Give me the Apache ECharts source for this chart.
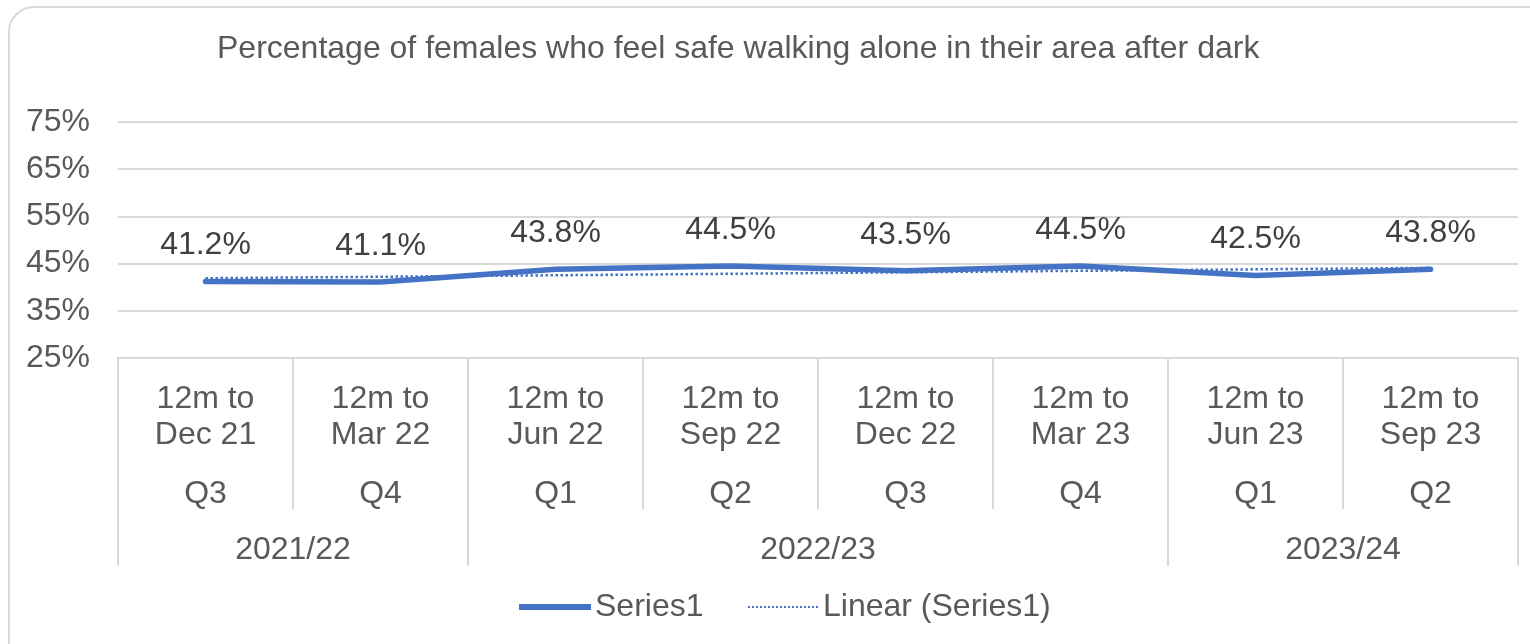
<!DOCTYPE html>
<html>
<head>
<meta charset="utf-8">
<script src="https://cdn.jsdelivr.net/npm/echarts@6/dist/echarts.min.js"></script>
<style>
html,body{margin:0;padding:0;background:#fff;overflow:hidden;}
#frame{position:absolute;left:8px;top:6px;width:1560px;height:680px;border:2px solid #d9d9d9;border-radius:26px;box-sizing:border-box;}
#chart{position:absolute;left:0;top:0;width:1530px;height:644px;}
</style>
</head>
<body>
<div id="frame"></div>
<div id="chart"></div>
<script>
const periods = ['12m to\nDec 21','12m to\nMar 22','12m to\nJun 22','12m to\nSep 22','12m to\nDec 22','12m to\nMar 23','12m to\nJun 23','12m to\nSep 23'];
const quarters = ['Q3','Q4','Q1','Q2','Q3','Q4','Q1','Q2'];
const years = ['2021/22','2022/23','2023/24'];
const yearSpans = [2,4,2]; // number of quarters in each year group
const series1 = [41.2,41.1,43.8,44.5,43.5,44.5,42.5,43.8];
const trendEnds = [41.9,44.1]; // linear trendline read at first and last category
const yTicks = [25,35,45,55,65,75];

const trend = series1.map((v,i)=> i===0 ? trendEnds[0] : (i===series1.length-1 ? trendEnds[1] : null));

const bounds=[0]; yearSpans.forEach(s=>bounds.push(bounds[bounds.length-1]+s));
const centres = yearSpans.map((s,i)=>bounds[i]+s/2);

// legend icons
const solidIcon = 'path://M0,0L72,0L72,6L0,6Z';
let dots=''; for(let x=0;x<=68;x+=4){dots+='M'+x+',0L'+(x+2)+',0L'+(x+2)+',2L'+x+',2Z';}
const dotIcon = 'path://'+dots;

const grey='#d9d9d9', txt='#595959', FS=32, FF='Liberation Sans, Arial, sans-serif';
const chart = echarts.init(document.getElementById('chart'));
chart.setOption({
  animation:false,
  textStyle:{fontFamily:FF},
  title:{text:'Percentage of females who feel safe walking alone in their area after dark',left:212,top:28,
    textStyle:{fontSize:32,fontWeight:'normal',color:txt,fontFamily:FF}},
  grid:{left:118,right:12,top:122,bottom:286},
  legend:[
    {left:514,bottom:16,itemWidth:72,itemHeight:6,
      textStyle:{fontSize:FS,color:txt,padding:[0,0,0,-1]},
      data:[{name:'Series1',icon:solidIcon}]},
    {left:743,bottom:16,itemWidth:70,itemHeight:2,
      textStyle:{fontSize:FS,color:txt,padding:[0,0,0,0]},
      data:[{name:'Linear (Series1)',icon:dotIcon}]}
  ],
  xAxis:[
    {type:'category',data:periods,boundaryGap:true,
      axisLine:{lineStyle:{color:grey,width:2}},
      axisTick:{show:true,interval:0,length:151,lineStyle:{color:grey,width:2}},
      axisLabel:{interval:0,margin:23,fontSize:FS,lineHeight:36,color:txt,verticalAlign:'top'}},
    {type:'category',data:quarters,boundaryGap:true,position:'bottom',
      axisLine:{show:false},axisTick:{show:false},
      axisLabel:{interval:0,margin:118,fontSize:FS,lineHeight:36,color:txt,verticalAlign:'top'}},
    {type:'value',min:0,max:bounds[bounds.length-1],interval:1,position:'bottom',
      axisLine:{show:false},splitLine:{show:false},
      axisTick:{show:true,customValues:bounds,length:208,lineStyle:{color:grey,width:2}},
      axisLabel:{customValues:centres,margin:174,fontSize:FS,lineHeight:36,color:txt,verticalAlign:'top',
        formatter:(v)=>{const i=centres.indexOf(v);return i>=0?years[i]:'';}}}
  ],
  yAxis:{type:'value',min:yTicks[0],max:yTicks[yTicks.length-1],interval:10,
    axisLine:{show:false},axisTick:{show:false},
    splitLine:{lineStyle:{color:grey,width:2}},
    axisLabel:{formatter:'{value}%',fontSize:FS,color:txt,margin:28,padding:[8,0,0,0]}},
  series:[
    {name:'Series1',type:'line',data:series1,xAxisIndex:0,symbol:'circle',symbolSize:0.01,showSymbol:true,
      lineStyle:{color:'#4472C4',width:5.5,cap:'round',join:'round'},itemStyle:{color:'#4472C4'},
      label:{show:true,position:'top',distance:20,fontSize:FS,color:'#404040',formatter:p=>p.value.toFixed(1)+'%'},
      labelLayout:{hideOverlap:false},z:3},
    {name:'Linear (Series1)',type:'line',data:trend,xAxisIndex:0,connectNulls:true,symbol:'none',
      lineStyle:{color:'#4472C4',width:2.5,type:'dotted'},itemStyle:{color:'#4472C4'},z:2}
  ]
});
</script>
</body>
</html>
